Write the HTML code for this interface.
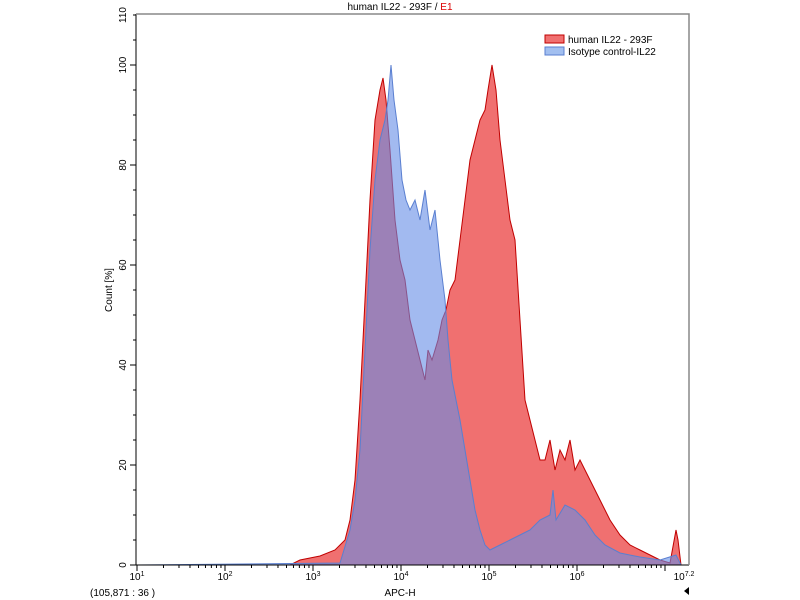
<!DOCTYPE html>
<html><head><meta charset="utf-8"><style>body{margin:0;background:#fff}svg{display:block;font-family:"Liberation Sans",sans-serif}</style></head>
<body>
<svg id="s" width="800" height="600" viewBox="0 0 800 600">
<rect width="800" height="600" fill="#fff"/>
<text x="400" y="10" font-size="10" text-anchor="middle" fill="#000">human IL22 - 293F / <tspan fill="#d00">E1</tspan></text>
<path fill="#f07070" stroke="#c00000" stroke-width="1" d="M137,565 L290,565 300,560 320,556 335,550 345,540 350,520 355,480 360,400 365,300 370,200 375,120 380,90 383,78 386,100 390,150 395,220 400,260 405,280 410,320 415,340 420,360 425,380 428,350 432,360 438,340 442,320 446,310 450,290 455,280 460,240 465,200 470,160 475,140 480,120 485,110 488,90 492,65 496,90 500,140 505,180 510,220 515,240 520,320 525,400 530,420 535,440 540,460 545,460 550,440 555,470 560,450 565,460 570,440 575,470 580,460 590,480 600,500 610,520 620,535 630,545 640,550 650,555 660,560 670,563 676,530 678,540 681,565 Z"/>
<path fill="rgb(100,140,230)" fill-opacity="0.6" stroke="#5a7fd0" stroke-width="1" d="M137,565 L340,563 350,530 355,500 360,450 365,350 370,250 375,180 380,140 385,120 388,100 391,65 394,100 398,130 402,180 406,200 410,210 415,200 420,220 425,190 430,230 435,210 440,260 445,300 448,340 452,380 456,400 460,420 465,450 470,480 475,510 480,530 485,545 490,550 500,545 510,540 520,535 530,530 540,520 550,515 553,490 556,520 565,505 575,510 585,520 595,535 605,545 620,553 640,557 660,560 676,555 681,565 Z"/>
<path d="M136,14 H689 V565 M136,14 V565 H689" fill="none" stroke="#000" stroke-width="1"/>
<path d="M136,14 H689 V565" fill="none" stroke="#888" stroke-width="1.5"/>
<g id="t" stroke="#000" stroke-width="1"></g>
<g font-size="10" fill="#000">
<text transform="translate(126,565) rotate(-90)" text-anchor="middle">0</text>
<text transform="translate(126,465) rotate(-90)" text-anchor="middle">20</text>
<text transform="translate(126,365) rotate(-90)" text-anchor="middle">40</text>
<text transform="translate(126,265) rotate(-90)" text-anchor="middle">60</text>
<text transform="translate(126,165) rotate(-90)" text-anchor="middle">80</text>
<text transform="translate(126,65) rotate(-90)" text-anchor="middle">100</text>
<text transform="translate(126,15) rotate(-90)" text-anchor="middle">110</text>
<text transform="translate(112,290) rotate(-90)" text-anchor="middle">Count [%]</text>
<text x="137" y="580" text-anchor="middle">10<tspan font-size="7" dy="-4">1</tspan></text>
<text x="225" y="580" text-anchor="middle">10<tspan font-size="7" dy="-4">2</tspan></text>
<text x="313" y="580" text-anchor="middle">10<tspan font-size="7" dy="-4">3</tspan></text>
<text x="401" y="580" text-anchor="middle">10<tspan font-size="7" dy="-4">4</tspan></text>
<text x="489" y="580" text-anchor="middle">10<tspan font-size="7" dy="-4">5</tspan></text>
<text x="577" y="580" text-anchor="middle">10<tspan font-size="7" dy="-4">6</tspan></text>
<text x="684" y="580" text-anchor="middle">10<tspan font-size="7" dy="-4">7.2</tspan></text>
<text x="400" y="596" text-anchor="middle">APC-H</text>
<text x="90" y="596">(105,871 : 36 )</text>
</g>
<polygon points="684,591 689,587 689,595" fill="#000"/>
<rect x="545" y="35" width="19" height="8" fill="#f07070" stroke="#c00000"/>
<rect x="545" y="47" width="19" height="8" fill="#a2bff0" stroke="#5a7fd0"/>
<text x="568" y="43" font-size="10">human IL22 - 293F</text>
<text x="568" y="55" font-size="10">Isotype control-IL22</text>
</svg>
<script>
var g=document.getElementById('t'),d='';
for(var v=0;v<=110;v+=5){var y=565-5*v;d+='M'+(v%20==0?130:133)+','+y+'H136';}
for(var e=1;e<7.2;e++){for(var k=1;k<10;k++){var lx=e+Math.log10(k);if(lx>7.2)break;var x=137+88*(lx-1);d+='M'+x+',565V'+(k==1?571:568);}}
var p=document.createElementNS('http://www.w3.org/2000/svg','path');p.setAttribute('d',d);g.appendChild(p);
</script>
</body></html>
